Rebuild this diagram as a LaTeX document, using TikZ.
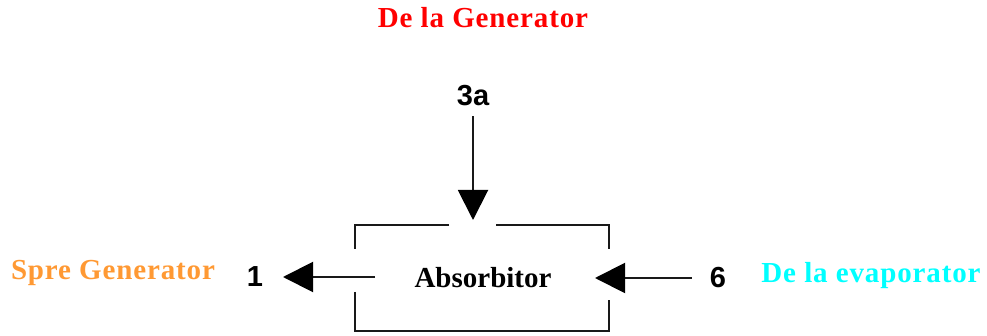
\documentclass[tikz,border=0pt]{standalone}
\usepackage{fontspec}
\setmainfont{Liberation Serif}
\newfontfamily\numfont{Liberation Sans}
\newfontfamily\labelfont[LetterSpace=3]{Liberation Serif}
\usetikzlibrary{arrows.meta}
\definecolor{genred}{HTML}{FF0000}
\definecolor{genorange}{HTML}{FF9933}
\definecolor{evapcyan}{HTML}{00FFFF}
\begin{document}
\begin{tikzpicture}[x=1pt,y=-1pt,
  wall/.style={line width=2pt,black!90},
  flow/.style={line width=2pt,black!90,-{Triangle[length=30pt,width=30pt,fill=black,color=black]}},
  caption/.style={font=\labelfont\fontsize{29}{32}\selectfont\bfseries,inner sep=0pt},
  unitname/.style={font=\fontsize{29}{32}\selectfont\bfseries,inner sep=0pt},
  num/.style={font=\numfont\fontsize{29}{32}\selectfont\bfseries,inner sep=0pt}]
\useasboundingbox (0,0) rectangle (987,336);
% labels
\node[caption,text=genred] (from-gen) at (483,18) {De la Generator};
\node[caption,text=genorange] (to-gen) at (113,273) {Spre Generator};
\node[caption,text=evapcyan] (from-evap) at (871,276) {De la evaporator};
\node[num] (n3a) at (473,96) {3a};
\node[num] (n1) at (255,277) {1};
\node[num] (n6) at (718,278) {6};
\node[unitname] (abs) at (483,278) {Absorbitor};
% absorber outline with openings for the three streams
\coordinate (br) at (609,331);
\draw[wall] (449,225) -| (355,249);
\draw[wall] (496,225) -| (609,249);
\draw[wall] (355,292) |- (br) -- (609,300);
% streams
\coordinate (in-top) at (473,220);
\coordinate (out-left) at (375,277);
\coordinate (tip-left) at (283,277);
\coordinate (in-right) at (595,278);
\draw[flow] ([yshift=-10pt]n3a.south) -- (in-top);
\draw[flow] (out-left) -- (tip-left);
\draw[flow] ([xshift=-18pt]n6.west) -- (in-right);
\end{tikzpicture}
\end{document}
